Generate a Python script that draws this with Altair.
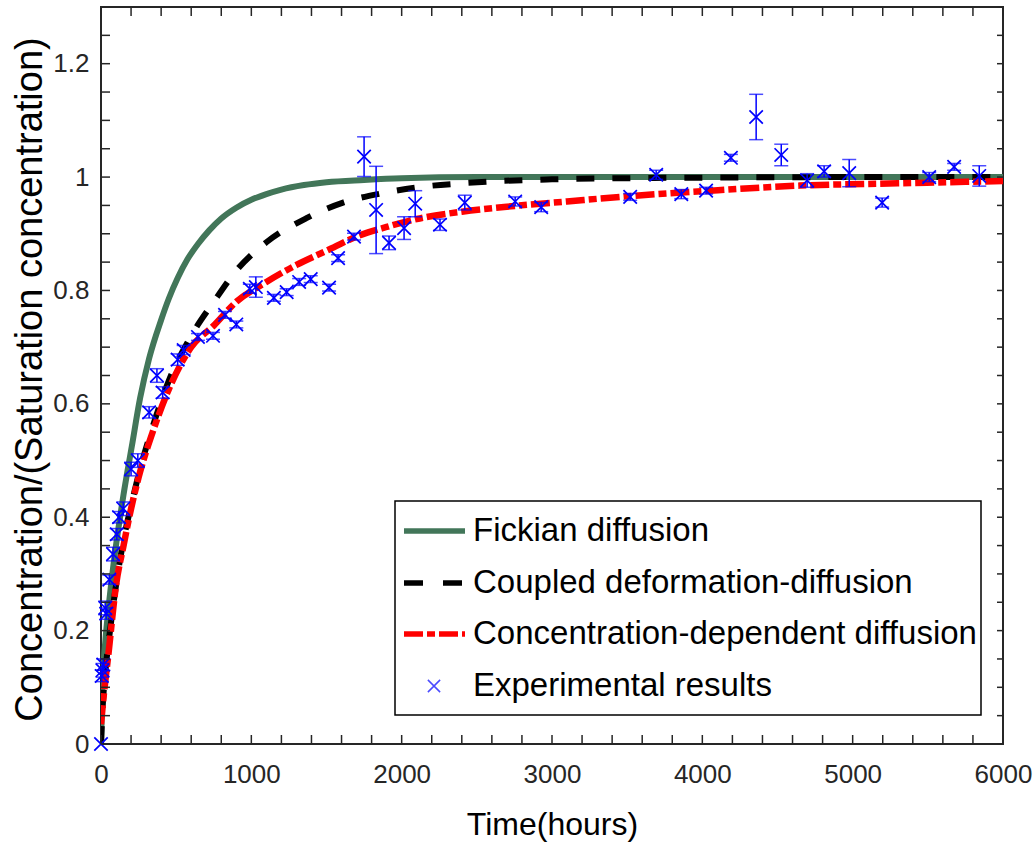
import altair as alt
import pandas as pd

# ---------------- data ----------------
fick_time = [0, 10, 30, 50, 80, 150, 205, 260, 320, 400, 450, 510, 575, 645, 720, 800, 900, 1000, 1100, 1200, 1350, 1500, 1750, 2000, 2500, 3000, 4000, 5000, 6000]
fick_conc = [0, 0.10, 0.185, 0.24, 0.31, 0.44, 0.525, 0.61, 0.68, 0.748, 0.785, 0.822, 0.855, 0.882, 0.906, 0.927, 0.946, 0.96, 0.97, 0.978, 0.986, 0.991, 0.995, 0.998, 1.0, 1.0, 1.0, 1.0, 1.0]

coupled_time = [0, 10, 30, 60, 100, 150, 200, 250, 350, 450, 600, 750, 900, 1100, 1370, 1610, 1880, 2140, 2400, 2650, 3000, 3500, 4000, 5000, 6000]
coupled_conc = [0, 0.06, 0.13, 0.2, 0.28, 0.36, 0.42, 0.475, 0.565, 0.64, 0.72, 0.78, 0.835, 0.885, 0.928, 0.955, 0.972, 0.983, 0.989, 0.993, 0.996, 0.998, 0.999, 1.0, 1.0]

cd_time = [0, 20, 50, 100, 150, 200, 250, 350, 450, 600, 750, 900, 1100, 1300, 1500, 1700, 1900, 2100, 2400, 2750, 3100, 3500, 4000, 4650, 5300, 6000]
cd_conc = [0.035, 0.09, 0.16, 0.28, 0.35, 0.415, 0.47, 0.555, 0.625, 0.70, 0.738, 0.78, 0.815, 0.845, 0.87, 0.895, 0.912, 0.926, 0.939, 0.949, 0.957, 0.966, 0.975, 0.985, 0.989, 0.993]

exp_time = [0, 5, 10, 15, 28, 35, 55, 80, 105, 120, 148, 200, 245, 320, 372, 410, 510, 550, 645, 745,
            825, 900, 990, 1030, 1150, 1235, 1318, 1395, 1517, 1577, 1683, 1750, 1830, 1916, 2016, 2090,
            2255, 2420, 2755, 2928, 3520, 3693, 3860, 4025, 4190, 4358, 4525, 4697, 4810, 4977, 5196,
            5509, 5675, 5842]
exp_conc = [0.0, 0.12, 0.13, 0.14, 0.24, 0.23, 0.29, 0.335, 0.37, 0.40, 0.415, 0.485, 0.50, 0.585, 0.65, 0.62,
            0.678, 0.695, 0.718, 0.72, 0.757, 0.74, 0.803, 0.806, 0.787, 0.797, 0.815, 0.82, 0.805, 0.857,
            0.895, 1.036, 0.942, 0.884, 0.91, 0.953, 0.916, 0.955, 0.957, 0.947, 0.965, 1.004, 0.97, 0.976,
            1.034, 1.106, 1.039, 0.994, 1.01, 1.007, 0.955, 1.0, 1.018, 1.002]
exp_err = [0, 0.01, 0.012, 0.01, 0.012, 0.01, 0.008, 0.012, 0.01, 0.01, 0.012, 0.012, 0.012, 0.01, 0.012, 0.01,
           0.01, 0.008, 0.006, 0.006, 0.006, 0.006, 0.008, 0.018, 0.006, 0.006, 0.006, 0.006, 0.006, 0.006,
           0.006, 0.035, 0.077, 0.012, 0.02, 0.023, 0.01, 0.013, 0.008, 0.008, 0.006, 0.008, 0.008, 0.006,
           0.006, 0.04, 0.019, 0.012, 0.01, 0.024, 0.008, 0.008, 0.006, 0.018]

x_label_values = [0, 1000, 2000, 3000, 4000, 5000, 6000]
y_label_values = [0, 0.2, 0.4, 0.6, 0.8, 1.0, 1.2]
x_tick_values = list(range(0, 6001, 200))
y_tick_values = [i / 20 for i in range(0, 27)]

legend_labels = ["Fickian diffusion", "Coupled deformation-diffusion",
                 "Concentration-dependent diffusion", "Experimental results"]

# ---------------- styling ----------------
W, H = 902, 737
FONT = "Liberation Sans, Arial, Helvetica, sans-serif"
AX = "#262626"
GREEN = "#427659"
BLUE = "#0000ff"
XSHAPE = "M-1,-1L1,1M1,-1L-1,1"

xs = alt.Scale(domain=[0, 6000], nice=False, zero=False)
ys = alt.Scale(domain=[0, 1.3], nice=False, zero=False)

x_axis = alt.Axis(values=x_label_values, format="d", ticks=False, domain=False, grid=False,
                  labelFont=FONT, labelFontSize=26, labelColor=AX, labelPadding=17,
                  labelFlush=False, labelOverlap=False,
                  title="Time(hours)", titleFont=FONT, titleFontSize=32, titleFontWeight="normal",
                  titleColor="#000000", titlePadding=22)
y_axis = alt.Axis(values=y_label_values, format=".1~f", ticks=False, domain=False, grid=False,
                  labelFont=FONT, labelFontSize=26, labelColor=AX, labelPadding=12,
                  labelFlush=False, labelOverlap=False,
                  title="Concentration/(Saturation concentration)", titleFont=FONT, titleFontSize=38,
                  titleFontWeight="normal", titleColor="#000000", titleX=-71, titleY=372,
                  titleAlign="center", titleBaseline="middle", titleAngle=270)

fick_df = pd.DataFrame({"t": fick_time, "v": fick_conc})
coup_df = pd.DataFrame({"t": coupled_time, "v": coupled_conc})
cd_df = pd.DataFrame({"t": cd_time, "v": cd_conc})
exp_df = pd.DataFrame({"t": exp_time, "v": exp_conc, "e": exp_err})
exp_df["lo"] = exp_df["v"] - exp_df["e"]
exp_df["hi"] = exp_df["v"] + exp_df["e"]
bars_df = exp_df[exp_df["e"] > 0]

fick = alt.Chart(fick_df).mark_line(color=GREEN, strokeWidth=6, clip=True, interpolate="monotone").encode(
    x=alt.X("t:Q", scale=xs, axis=x_axis), y=alt.Y("v:Q", scale=ys, axis=y_axis))
coup = alt.Chart(coup_df).mark_line(color="#000000", strokeWidth=6, strokeDash=[18, 18], clip=True,
                                    interpolate="monotone").encode(
    x=alt.X("t:Q", scale=xs), y=alt.Y("v:Q", scale=ys))
cd = alt.Chart(cd_df).mark_line(color="#ff0000", strokeWidth=6.5, strokeDash=[19, 4, 8, 4], clip=True,
                                interpolate="monotone").encode(
    x=alt.X("t:Q", scale=xs), y=alt.Y("v:Q", scale=ys))

err_rule = alt.Chart(bars_df).mark_rule(color=BLUE, strokeWidth=1.5).encode(
    x=alt.X("t:Q", scale=xs), y=alt.Y("lo:Q", scale=ys), y2="hi:Q")
cap_lo = alt.Chart(bars_df).mark_tick(color=BLUE, orient="horizontal", size=14, thickness=1.5).encode(
    x=alt.X("t:Q", scale=xs), y=alt.Y("lo:Q", scale=ys))
cap_hi = alt.Chart(bars_df).mark_tick(color=BLUE, orient="horizontal", size=14, thickness=1.5).encode(
    x=alt.X("t:Q", scale=xs), y=alt.Y("hi:Q", scale=ys))
pts = alt.Chart(exp_df).mark_point(shape=XSHAPE, filled=False, color=BLUE, strokeWidth=1.7, size=180,
                                   opacity=1).encode(
    x=alt.X("t:Q", scale=xs), y=alt.Y("v:Q", scale=ys))

# inward tick marks on all four sides (MATLAB box style)
xt_df = pd.DataFrame({"t": x_tick_values})
yt_df = pd.DataFrame({"v": y_tick_values})
tick_bottom = alt.Chart(xt_df).mark_rule(color=AX, strokeWidth=1.5).encode(
    x=alt.X("t:Q", scale=xs), y=alt.value(H - 9), y2=alt.value(H))
tick_top = alt.Chart(xt_df).mark_rule(color=AX, strokeWidth=1.5).encode(
    x=alt.X("t:Q", scale=xs), y=alt.value(0), y2=alt.value(9))
tick_left = alt.Chart(yt_df).mark_rule(color=AX, strokeWidth=1.5).encode(
    y=alt.Y("v:Q", scale=ys), x=alt.value(0), x2=alt.value(9))
tick_right = alt.Chart(yt_df).mark_rule(color=AX, strokeWidth=1.5).encode(
    y=alt.Y("v:Q", scale=ys), x=alt.value(W - 6), x2=alt.value(W))

# legend box (hand-built to mix line styles and the x marker); one row so each mark is drawn once
one = pd.DataFrame({"k": [0]})
LX0, LX1, LY0, LY1 = 294, 880, 494, 708
entry_y = [524, 576, 627, 679]
legend_layers = [
    alt.Chart(one).mark_rect(fill="white", stroke="#000000", strokeWidth=1.5).encode(
        x=alt.value(LX0), x2=alt.value(LX1), y=alt.value(LY0), y2=alt.value(LY1)),
    alt.Chart(one).mark_rule(color=GREEN, strokeWidth=5.5).encode(
        x=alt.value(303), x2=alt.value(364), y=alt.value(entry_y[0])),
    alt.Chart(one).mark_rule(color="#000000", strokeWidth=5.5, strokeDash=[19, 20]).encode(
        x=alt.value(303), x2=alt.value(364), y=alt.value(entry_y[1])),
    alt.Chart(one).mark_rule(color="#ff0000", strokeWidth=5.5, strokeDash=[19, 4, 8, 4]).encode(
        x=alt.value(303), x2=alt.value(364), y=alt.value(entry_y[2])),
    alt.Chart(one).mark_point(shape=XSHAPE, filled=False, color=BLUE, strokeWidth=1.5, size=150).encode(
        x=alt.value(333), y=alt.value(entry_y[3])),
]
for lab, yy in zip(legend_labels, entry_y):
    legend_layers.append(
        alt.Chart(one).mark_text(text=lab, font=FONT, fontSize=33, align="left",
                                 baseline="middle", color="#000000").encode(
            x=alt.value(372), y=alt.value(yy)))

chart = alt.layer(
    fick, coup, cd, err_rule, cap_lo, cap_hi, pts,
    tick_bottom, tick_top, tick_left, tick_right,
    *legend_layers
).properties(
    width=W, height=H, autosize="none",
    padding={"left": 101, "top": 7, "right": 31, "bottom": 106},
    background="white"
).configure_view(stroke=AX, strokeWidth=2)

chart.save("out.html", embed_options={"renderer": "svg", "actions": False})
